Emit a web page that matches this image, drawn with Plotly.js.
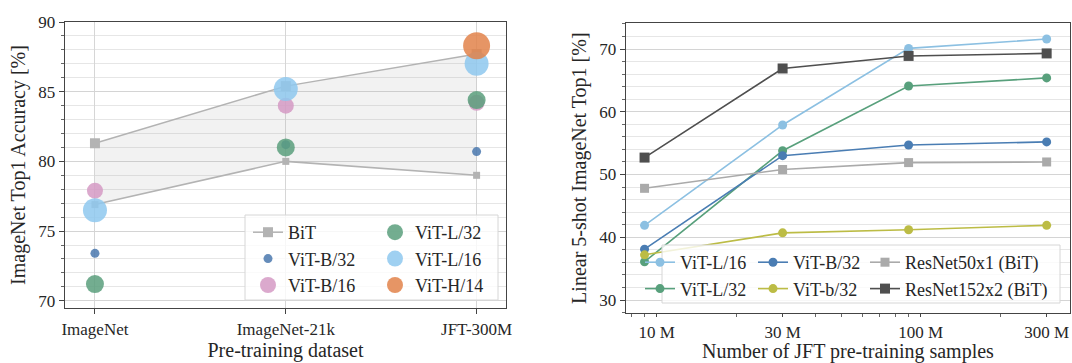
<!DOCTYPE html>
<html>
<head>
<meta charset="utf-8">
<script src="https://cdn.plot.ly/plotly-3.0.1.min.js"></script>
<style>html,body{margin:0;padding:0;background:#fff;}#chart{width:1072px;height:363px;}</style>
</head>
<body>
<div id="chart"></div>
<script>
// ---- Left panel data ----
const datasets = ['ImageNet', 'ImageNet-21k', 'JFT-300M'];
const bitUpper = [81.3, 85.4, 87.7];
const bitLower = [76.9, 80.0, 79.0];
const vitB32 = [73.4, 81.2, 80.7];
const vitB16 = [77.9, 84.0, 84.2];
const vitL32 = [71.2, 81.0, 84.4];
const vitL16 = [76.5, 85.2, 87.0];
const vitH14 = [null, null, 88.3];

// ---- Right panel data ----
const jftSamples = [9e6, 30e6, 90e6, 300e6];
const sampleTickVals = [1e7, 3e7, 1e8, 3e8];
const sampleTickText = ['10 M', '30 M', '100 M', '300 M'];
const fsVitL16 = [41.9, 57.9, 70.1, 71.6];
const fsVitL32 = [36.1, 53.8, 64.1, 65.4];
const fsVitB32 = [38.1, 53.0, 54.7, 55.2];
const fsVitb32 = [37.2, 40.7, 41.2, 41.9];
const fsRes50 = [47.8, 50.8, 51.9, 52.0];
const fsRes152 = [52.7, 66.9, 68.9, 69.3];

const SERIF = '"Liberation Serif", "Times New Roman", serif';
const TXT = '#262626';

const traces = [
  {x: datasets, y: bitUpper, type: 'scatter', mode: 'lines+markers', name: 'BiT', legend: 'legend',
   line: {color: '#b3b3b3', width: 1.5}, marker: {symbol: 'square', size: 10, color: '#b3b3b3'},
   xaxis: 'x', yaxis: 'y', cliponaxis: false},
  {x: datasets, y: bitLower, type: 'scatter', mode: 'lines+markers', name: 'BiT', showlegend: false, legend: 'legend',
   line: {color: '#b3b3b3', width: 1.5}, marker: {symbol: 'square', size: 7, color: '#b3b3b3'},
   fill: 'tonexty', fillcolor: 'rgba(170,170,170,0.15)', xaxis: 'x', yaxis: 'y', cliponaxis: false},
  {x: datasets, y: vitB32, type: 'scatter', mode: 'markers', name: 'ViT-B/32', legend: 'legend',
   marker: {size: 9, color: '#4a78ae', opacity: 0.85}, xaxis: 'x', yaxis: 'y', cliponaxis: false},
  {x: datasets, y: vitB16, type: 'scatter', mode: 'markers', name: 'ViT-B/16', legend: 'legend',
   marker: {size: 16, color: '#d59ac4', opacity: 0.85}, xaxis: 'x', yaxis: 'y', cliponaxis: false},
  {x: datasets, y: vitL32, type: 'scatter', mode: 'markers', name: 'ViT-L/32', legend: 'legend2',
   marker: {size: 18, color: '#5b9f7c', opacity: 0.85}, xaxis: 'x', yaxis: 'y', cliponaxis: false},
  {x: datasets, y: vitL16, type: 'scatter', mode: 'markers', name: 'ViT-L/16', legend: 'legend2',
   marker: {size: 24, color: '#8ec8ee', opacity: 0.85}, xaxis: 'x', yaxis: 'y', cliponaxis: false},
  {x: datasets, y: vitH14, type: 'scatter', mode: 'markers', name: 'ViT-H/14', legend: 'legend2',
   marker: {size: 27, color: '#e2834a', opacity: 0.85}, xaxis: 'x', yaxis: 'y', cliponaxis: false},

  {x: jftSamples, y: fsVitL16, type: 'scatter', mode: 'lines+markers', name: 'ViT-L/16', legend: 'legend3',
   line: {color: '#8cc0e2', width: 1.6}, marker: {size: 9, color: '#8cc0e2'}, xaxis: 'x2', yaxis: 'y2', cliponaxis: false},
  {x: jftSamples, y: fsVitL32, type: 'scatter', mode: 'lines+markers', name: 'ViT-L/32', legend: 'legend3',
   line: {color: '#58a07c', width: 1.6}, marker: {size: 9, color: '#58a07c'}, xaxis: 'x2', yaxis: 'y2', cliponaxis: false},
  {x: jftSamples, y: fsVitB32, type: 'scatter', mode: 'lines+markers', name: 'ViT-B/32', legend: 'legend4',
   line: {color: '#4a7db3', width: 1.6}, marker: {size: 9, color: '#4a7db3'}, xaxis: 'x2', yaxis: 'y2', cliponaxis: false},
  {x: jftSamples, y: fsVitb32, type: 'scatter', mode: 'lines+markers', name: 'ViT-b/32', legend: 'legend4',
   line: {color: '#bcbc45', width: 1.6}, marker: {size: 9, color: '#bcbc45'}, xaxis: 'x2', yaxis: 'y2', cliponaxis: false},
  {x: jftSamples, y: fsRes50, type: 'scatter', mode: 'lines+markers', name: 'ResNet50x1 (BiT)', legend: 'legend5',
   line: {color: '#aaaaaa', width: 1.6}, marker: {symbol: 'square', size: 9, color: '#aaaaaa'}, xaxis: 'x2', yaxis: 'y2', cliponaxis: false},
  {x: jftSamples, y: fsRes152, type: 'scatter', mode: 'lines+markers', name: 'ResNet152x2 (BiT)', legend: 'legend5',
   line: {color: '#4f4f4f', width: 1.6}, marker: {symbol: 'square', size: 10, color: '#4f4f4f'}, xaxis: 'x2', yaxis: 'y2', cliponaxis: false}
];

const W = 1072, H = 363;
const px = v => v / W, py = v => 1 - v / H;

const axisCommon = {
  showline: true, linecolor: '#444', linewidth: 1.3, mirror: true,
  ticks: 'outside', ticklen: 5, tickcolor: '#444', tickwidth: 1,
  tickfont: {family: SERIF, size: 17, color: TXT},
  zeroline: false
};

const legendCommon = {
  bgcolor: 'rgba(0,0,0,0)', borderwidth: 0, orientation: 'v', traceorder: 'normal',
  font: {family: SERIF, size: 18, color: TXT},
  xanchor: 'left', yanchor: 'top', itemsizing: 'trace', tracegroupgap: 0
};

const titleFont = {family: SERIF, size: 20, color: TXT};

const layout = {
  width: W, height: H,
  margin: {l: 0, r: 0, t: 0, b: 0},
  paper_bgcolor: '#fff', plot_bgcolor: '#fff',
  showlegend: true,
  xaxis: Object.assign({}, axisCommon, {
    domain: [px(65), px(506)], anchor: 'y', type: 'category',
    range: [-0.157, 2.154], showgrid: true, gridcolor: '#d6d6d6', gridwidth: 1,
    title: {text: 'Pre-training dataset', font: titleFont, standoff: 3}
  }),
  yaxis: Object.assign({}, axisCommon, {
    domain: [py(308), py(22)], anchor: 'x',
    range: [69.48, 90.0], tickvals: [70, 75, 80, 85, 90],
    showgrid: true, gridcolor: '#d4d4d4', gridwidth: 1,
    minor: {dtick: 1, tick0: 0, showgrid: true, gridcolor: '#e6e6e6', gridwidth: 1, ticks: 'outside', ticklen: 2.5, tickcolor: '#666'},
    title: {text: 'ImageNet Top1 Accuracy [%]', font: titleFont, standoff: 7}
  }),
  xaxis2: Object.assign({}, axisCommon, {
    domain: [px(626), px(1070)], anchor: 'y2', type: 'log', ticklen: 3,
    range: [6.884, 8.5655], tickvals: sampleTickVals, ticktext: sampleTickText, showgrid: false,
    minor: {tickmode: 'array', tickvals: [7e6, 8e6, 9e6, 2e7, 4e7, 5e7, 6e7, 7e7, 8e7, 9e7, 2e8, 3e8],
            ticks: 'outside', ticklen: 2.5, tickcolor: '#666', showgrid: false},
    title: {text: 'Number of JFT pre-training samples', font: titleFont, standoff: 1}
  }),
  yaxis2: Object.assign({}, axisCommon, {
    domain: [py(313), py(23.3)], anchor: 'x2',
    range: [27.93, 74.1], tickvals: [30, 40, 50, 60, 70],
    showgrid: true, gridcolor: '#d4d4d4', gridwidth: 1,
    minor: {dtick: 2, tick0: 0, showgrid: true, gridcolor: '#e6e6e6', gridwidth: 1, ticks: 'outside', ticklen: 2.5, tickcolor: '#666'},
    title: {text: 'Linear 5-shot ImageNet Top1 [%]', font: titleFont, standoff: 7}
  }),
  legend: Object.assign({}, legendCommon, {x: px(248), y: py(214)}),
  legend2: Object.assign({}, legendCommon, {x: px(375), y: py(214)}),
  legend3: Object.assign({}, legendCommon, {x: px(640), y: py(244)}),
  legend4: Object.assign({}, legendCommon, {x: px(753), y: py(244)}),
  legend5: Object.assign({}, legendCommon, {x: px(865), y: py(244)}),
  shapes: [
    {type: 'rect', xref: 'paper', yref: 'paper', x0: px(245), x1: px(498), y0: py(300), y1: py(215),
     fillcolor: 'rgba(255,255,255,0.8)', line: {color: '#d6d6d6', width: 1}, layer: 'above'},
    {type: 'rect', xref: 'paper', yref: 'paper', x0: px(662), x1: px(1060), y0: py(303), y1: py(245),
     fillcolor: 'rgba(255,255,255,0.8)', line: {color: '#d6d6d6', width: 1}, layer: 'above'}
  ]
};

Plotly.newPlot('chart', traces, layout, {displayModeBar: false, staticPlot: true});
</script>
</body>
</html>
